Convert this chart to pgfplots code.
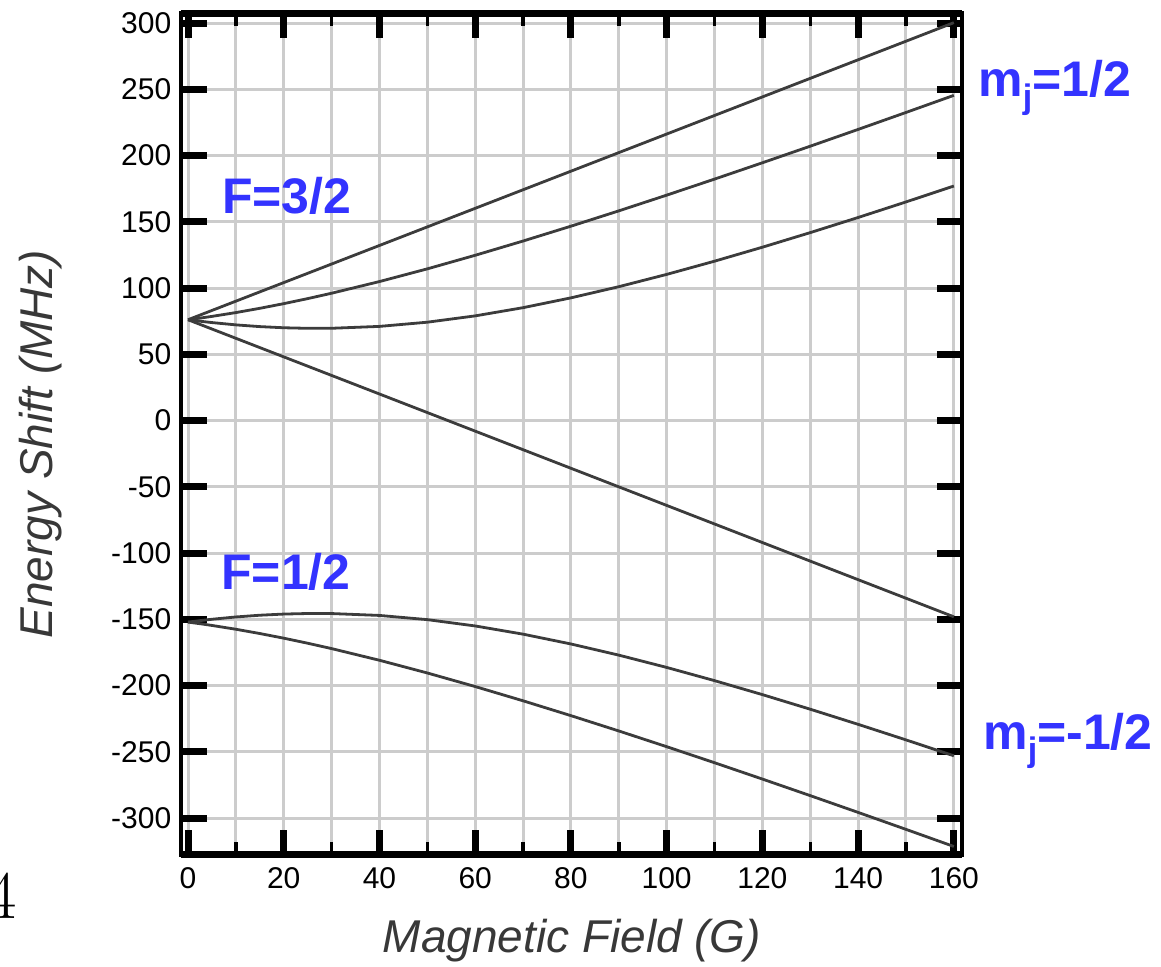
\documentclass[border=0pt]{standalone}
\usepackage{pgfplots}
\pgfplotsset{compat=1.18}
\usepackage{fontspec}
\setsansfont{Liberation Sans}
\definecolor{lblue}{RGB}{51,51,255}
\definecolor{gridgray}{RGB}{204,204,204}
\definecolor{curvegray}{RGB}{60,60,60}
\pgfplotsset{curve/.style={draw=curvegray, line width=1.4pt, line join=round, mark=none}}
\begin{document}
\begin{tikzpicture}
\useasboundingbox (-90.75pt,-56pt) rectangle (489.75pt,427.5pt);
\begin{axis}[
  at={(0pt,0pt)}, anchor=south west,
  scale only axis, width=390pt, height=420.75pt,
  xmin=-1.36, xmax=161.6, ymin=-327.9, ymax=307.2,
  clip=false,
  xtick={0,20,...,160}, minor xtick={10,30,...,150},
  ytick={-300,-250,...,300},
  xmajorgrids, xminorgrids, ymajorgrids,
  grid style={draw=gridgray, line width=1.5pt},
  tick align=inside,
  major tick length=12.5pt, minor tick length=6.5pt,
  major tick style={line width=3.5pt, black},
  minor tick style={line width=1.75pt, black},
  axis line style={line width=2pt},
  tick label style={font=\sffamily\fontsize{15}{18}\selectfont},
  /pgf/number format/assume math mode=true,
  xticklabel style={yshift=-2.75pt},
  yticklabel style={xshift=-1.6pt},
  xlabel={Magnetic Field (G)}, ylabel={Energy Shift (MHz)},
  label style={font=\sffamily\itshape\fontsize{23}{27}\selectfont, text=black!78},
  xlabel style={at={(rel axis cs:0.5006,-0.1153)}, anchor=base},
  ylabel style={at={(rel axis cs:-0.166,0.4884)}, anchor=base},
]
% F=3/2, mF=+3/2
\addplot[curve] coordinates {(0,76.07) (160,300.28)};
% F=3/2, mF=-3/2
\addplot[curve] coordinates {(0,76.07) (160,-148.14)};
% F=3/2, mF=+1/2
\addplot[curve] coordinates {(0,76.07) (2.5,77.28) (5,78.59) (10,81.47) (15,84.69) (20,88.21) (25,92.01) (30,96.07) (40,104.88) (50,114.47) (60,124.71) (70,135.47) (80,146.67) (90,158.23) (100,170.09) (110,182.20) (120,194.53) (130,207.04) (140,219.70) (150,232.50) (160,245.41)};
% F=3/2, mF=-1/2
\addplot[curve] coordinates {(0,76.07) (2.5,74.95) (5,73.93) (10,72.19) (15,70.88) (20,70.01) (25,69.59) (30,69.62) (40,71.04) (50,74.21) (60,78.98) (70,85.17) (80,92.58) (90,101.00) (100,110.28) (110,120.25) (120,130.80) (130,141.82) (140,153.23) (150,164.97) (160,176.98)};
% F=1/2, mF=+1/2
\addplot[curve] coordinates {(0,-152.13) (2.5,-153.35) (5,-154.65) (10,-157.53) (15,-160.75) (20,-164.27) (25,-168.07) (30,-172.13) (40,-180.94) (50,-190.53) (60,-200.77) (70,-211.53) (80,-222.73) (90,-234.29) (100,-246.15) (110,-258.26) (120,-270.59) (130,-283.10) (140,-295.76) (150,-308.56) (160,-321.47)};
% F=1/2, mF=-1/2
\addplot[curve] coordinates {(0,-152.13) (2.5,-151.01) (5,-149.99) (10,-148.25) (15,-146.94) (20,-146.07) (25,-145.65) (30,-145.68) (40,-147.10) (50,-150.27) (60,-155.04) (70,-161.23) (80,-168.64) (90,-177.06) (100,-186.34) (110,-196.31) (120,-206.86) (130,-217.88) (140,-229.29) (150,-241.03) (160,-253.04)};
% thicker top and bottom frame
\draw[line width=3.5pt] (rel axis cs:0,0) -- (rel axis cs:1,0);
\draw[line width=3.5pt] (rel axis cs:0,1) -- (rel axis cs:1,1);
% labels
\node[anchor=base west, inner sep=0pt, text=lblue, font=\sffamily\bfseries\fontsize{25}{30}\selectfont] at (axis cs:7.04,156.6) {F=3/2};
\node[anchor=base west, inner sep=0pt, text=lblue, font=\sffamily\bfseries\fontsize{25}{30}\selectfont] at (axis cs:6.9,-127.4) {F=1/2};
\node[anchor=base west, inner sep=0pt, text=lblue, font=\sffamily\bfseries\fontsize{25}{30}\selectfont] at (rel axis cs:1.0212,0.9011) {m\raisebox{-6pt}{\fontsize{17}{17}\selectfont j}=1/2};
\node[anchor=base west, inner sep=0pt, text=lblue, font=\sffamily\bfseries\fontsize{25}{30}\selectfont] at (rel axis cs:1.0276,0.1256) {m\raisebox{-6pt}{\fontsize{17}{17}\selectfont j}=-1/2};
\node[anchor=base east, inner sep=0pt, font=\rmfamily\fontsize{34}{40}\selectfont] at (rel axis cs:-0.2110,-0.0749) {4};
\end{axis}
\end{tikzpicture}
\end{document}
